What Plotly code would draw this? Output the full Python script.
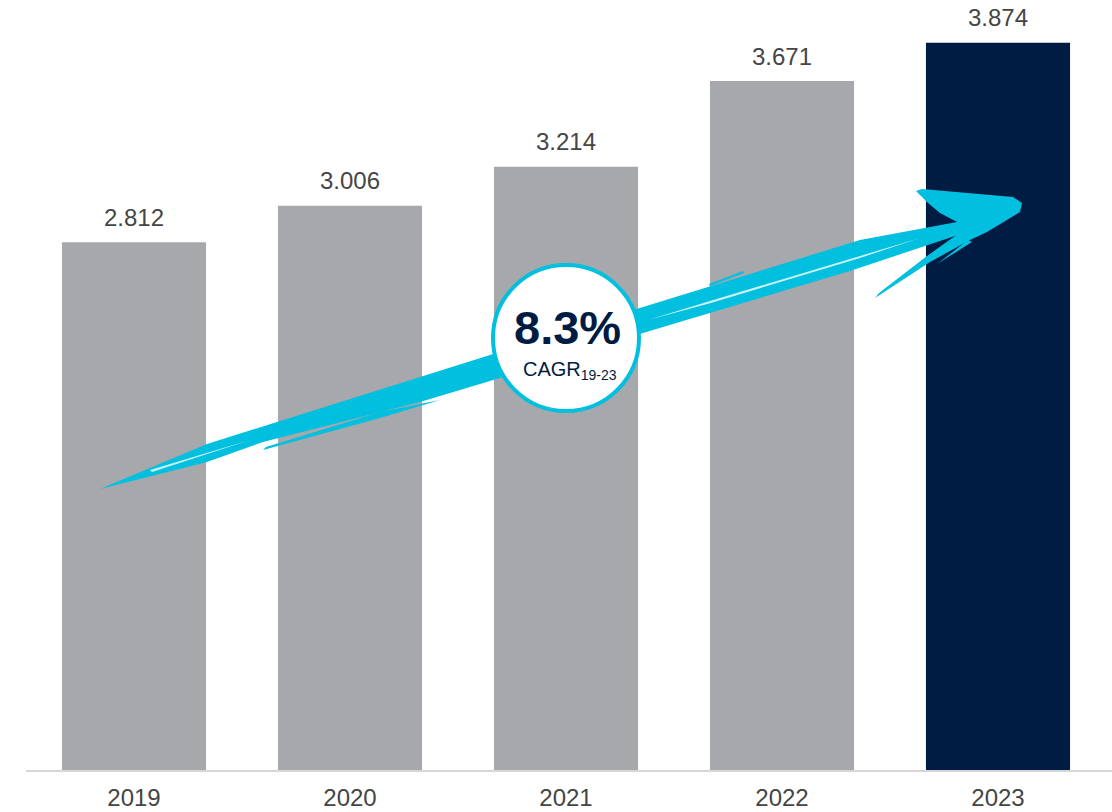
import plotly.graph_objects as go

# Data
years = ["2019", "2020", "2021", "2022", "2023"]
values = [2.812, 3.006, 3.214, 3.671, 3.874]
value_labels = ["2.812", "3.006", "3.214", "3.671", "3.874"]
cagr_text = "8.3%"
cagr_label = "CAGR<sub>19-23</sub>"

GRAY = "#a7a8ac"
NAVY = "#011c42"
CYAN = "#00bfdf"
TEXT = "#454545"
FONT = "Liberation Sans, Arial, sans-serif"

W, H = 1112, 812
ML, MR, MT, MB = 26, 0, 0, 42
PW, PH = W - ML - MR, H - MT - MB


def px(x, y):
    """Pixel position on the page -> paper coordinates."""
    return (x - ML) / PW, (MT + PH - y) / PH


def path(points):
    pts = [px(x, y) for x, y in points]
    return "M " + " L ".join(f"{a:.5f},{b:.5f}" for a, b in pts) + " Z"


colors = [GRAY] * (len(years) - 1) + [NAVY]

fig = go.Figure()
fig.add_trace(go.Bar(
    x=years,
    y=values,
    marker=dict(color=colors, line=dict(width=0)),
    width=0.667,
    hoverinfo="skip",
))

# Value labels above each bar (transparent markers give extra headroom)
fig.add_trace(go.Scatter(
    x=years, y=values, text=value_labels, mode="markers+text",
    marker=dict(size=15, opacity=0),
    textposition="top center", cliponaxis=False,
    textfont=dict(family=FONT, size=24, color=TEXT),
    hoverinfo="skip",
))

# Brush-stroke growth arrow (decorative, in page pixels)
main_stroke = [
    (100, 489), (207, 444), (347, 400), (490, 355), (643, 307), (860, 240),
    (957, 222), (940, 213), (928, 203), (916, 191), (922, 189), (1013, 197),
    (1022, 203), (1020, 212), (987, 232), (970, 240), (930, 262), (875, 298),
    (879, 293), (927, 256), (955, 236), (850, 271), (643, 333), (490, 381),
    (420, 402), (263, 442), (207, 462),
]
lower_stroke = [(263, 450), (380, 418), (440, 400), (380, 412), (266, 447)]
mini_barb = [(937, 264), (968, 240), (972, 242)]
top_dash = [(709, 284), (743, 271), (744, 273), (710, 286)]
white_gaps = [
    [(648, 320), (710, 301), (860, 256), (920, 238), (860, 258), (711, 303)],
    [(150, 470), (250, 440), (152, 472)],
]

for poly in [main_stroke, lower_stroke, mini_barb, top_dash]:
    fig.add_shape(type="path", xref="paper", yref="paper", path=path(poly),
                  fillcolor=CYAN, line=dict(width=0), layer="above")
for poly in white_gaps:
    fig.add_shape(type="path", xref="paper", yref="paper", path=path(poly),
                  fillcolor="rgba(255,255,255,0.8)", line=dict(width=0), layer="above")

# CAGR bubble
cx, cy, r = 566, 338, 73
x0, y0 = px(cx - r, cy + r)
x1, y1 = px(cx + r, cy - r)
fig.add_shape(type="circle", xref="paper", yref="paper", x0=x0, y0=y0, x1=x1, y1=y1,
              fillcolor="white", line=dict(color=CYAN, width=4), layer="above")

tx, ty = px(cx + 1, 327)
fig.add_annotation(xref="paper", yref="paper", x=tx, y=ty, text=f"<b>{cagr_text}</b>",
                   showarrow=False, font=dict(family=FONT, size=47, color=NAVY))
tx, ty = px(cx + 4, 370)
fig.add_annotation(xref="paper", yref="paper", x=tx, y=ty, text=cagr_label,
                   showarrow=False, font=dict(family=FONT, size=20, color=NAVY))

fig.update_layout(
    width=W, height=H,
    margin=dict(l=ML, r=MR, t=MT, b=MB),
    paper_bgcolor="white", plot_bgcolor="white",
    showlegend=False,
    xaxis=dict(
        type="category",
        range=[-0.5, 4.5 + (PW - 1080) / 216],
        showgrid=False, zeroline=False,
        showline=True, linecolor="#d6d6d6", linewidth=2,
        ticks="", ticklabelstandoff=5,
        tickfont=dict(family=FONT, size=24, color=TEXT),
        fixedrange=True,
    ),
    yaxis=dict(
        range=[0, PH / 187.7],
        visible=False, showgrid=False, zeroline=False, fixedrange=True,
    ),
)

fig.write_html("out.html")
